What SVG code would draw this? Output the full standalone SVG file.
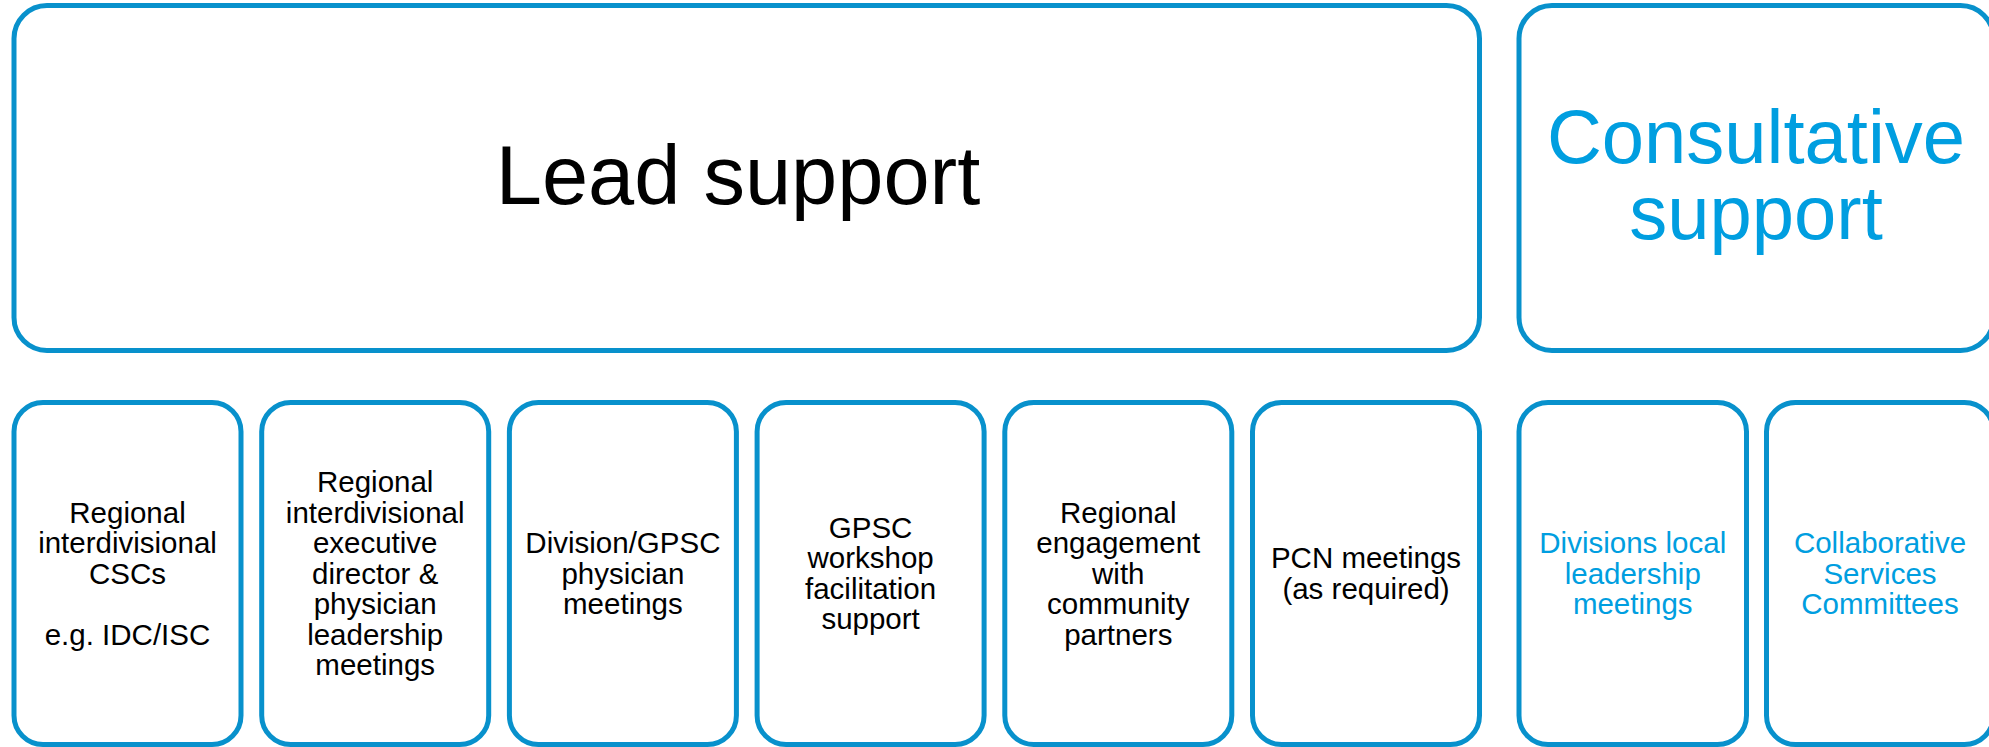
<svg xmlns="http://www.w3.org/2000/svg" width="1989" height="747" viewBox="0 0 1989 747">
<style>
.box{fill:#ffffff;stroke:#0891CC;stroke-width:5}
.t{font-family:"Liberation Sans",Arial,sans-serif;font-size:29.5px;text-anchor:middle;fill:#000000}
.blue{fill:#009EE0}
.big{font-family:"Liberation Sans",Arial,sans-serif;text-anchor:middle}
</style>
<rect width="1989" height="747" fill="#ffffff"/>
<g id="lead-support">
<rect class="box" x="14" y="5.5" width="1465.5" height="345" rx="33"/>
<text class="big" x="738" y="204" font-size="83" fill="#000000">Lead support</text>
</g>
<g id="consultative-support">
<rect class="box" x="1519" y="5.5" width="474.5" height="345" rx="33"/>
<text class="big" x="1756" y="163" font-size="76" fill="#009EE0">Consultative<tspan x="1756" dy="76">support</tspan></text>
</g>
<g id="n1">
<rect class="box" x="14" y="402.5" width="227" height="342" rx="29"/>
<text class="t" x="127.5" y="522.5">Regional<tspan x="127.5" dy="30.5">interdivisional</tspan><tspan x="127.5" dy="30.5">CSCs</tspan><tspan x="127.5" dy="61">e.g. IDC/ISC</tspan></text>
</g>
<g id="n2">
<rect class="box" x="261.7" y="402.5" width="227" height="342" rx="29"/>
<text class="t" x="375.2" y="492">Regional<tspan x="375.2" dy="30.5">interdivisional</tspan><tspan x="375.2" dy="30.5">executive</tspan><tspan x="375.2" dy="30.5">director &amp;</tspan><tspan x="375.2" dy="30.5">physician</tspan><tspan x="375.2" dy="30.5">leadership</tspan><tspan x="375.2" dy="30.5">meetings</tspan></text>
</g>
<g id="n3">
<rect class="box" x="509.4" y="402.5" width="227" height="342" rx="29"/>
<text class="t" x="622.9" y="553">Division/GPSC<tspan x="622.9" dy="30.5">physician</tspan><tspan x="622.9" dy="30.5">meetings</tspan></text>
</g>
<g id="n4">
<rect class="box" x="757.1" y="402.5" width="227" height="342" rx="29"/>
<text class="t" x="870.6" y="537.75">GPSC<tspan x="870.6" dy="30.5">workshop</tspan><tspan x="870.6" dy="30.5">facilitation</tspan><tspan x="870.6" dy="30.5">support</tspan></text>
</g>
<g id="n5">
<rect class="box" x="1004.8" y="402.5" width="227" height="342" rx="29"/>
<text class="t" x="1118.3" y="522.5">Regional<tspan x="1118.3" dy="30.5">engagement</tspan><tspan x="1118.3" dy="30.5">with</tspan><tspan x="1118.3" dy="30.5">community</tspan><tspan x="1118.3" dy="30.5">partners</tspan></text>
</g>
<g id="n6">
<rect class="box" x="1252.5" y="402.5" width="227" height="342" rx="29"/>
<text class="t" x="1366" y="568.25">PCN meetings<tspan x="1366" dy="30.5">(as required)</tspan></text>
</g>
<g id="n7">
<rect class="box" x="1519" y="402.5" width="227.5" height="342" rx="29"/>
<text class="t blue" x="1632.75" y="553">Divisions local<tspan x="1632.75" dy="30.5">leadership</tspan><tspan x="1632.75" dy="30.5">meetings</tspan></text>
</g>
<g id="n8">
<rect class="box" x="1766.5" y="402.5" width="227" height="342" rx="29"/>
<text class="t blue" x="1880" y="553">Collaborative<tspan x="1880" dy="30.5">Services</tspan><tspan x="1880" dy="30.5">Committees</tspan></text>
</g>
<g id="connectors"></g>
</svg>
